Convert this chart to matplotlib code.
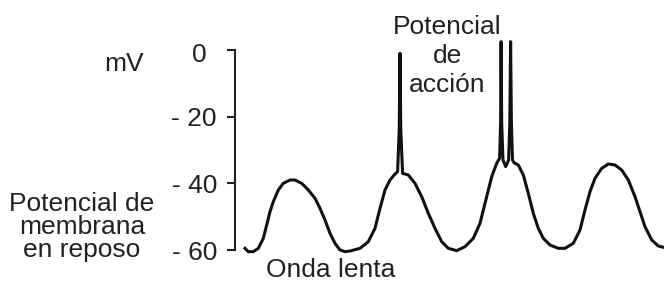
import matplotlib.pyplot as plt
from matplotlib.transforms import ScaledTranslation

# time (arbitrary units) and membrane potential (mV)
t = [10, 13.3, 18.3, 23.3, 28.3, 31.7, 35, 38.3, 43.3, 48.3, 55, 60, 66.7, 73.3,
     80, 85, 90, 95, 100, 105, 110, 115,
     125, 133.3, 140, 145, 150, 155, 160, 162.6, 164.2, 165, 165.8, 167.6,
     173.3, 180, 186.7, 193.3, 200, 206.7, 213.3, 221.7,
     230, 238.3, 245, 251.7, 256.7, 261.7, 264.6, 265.6, 266.1, 266.7, 268,
     270.7, 273.6, 274.8, 275.6, 276.4, 277.5, 279, 283.3, 288.3, 293.3, 298.3,
     303.3, 308.3, 315, 323.3, 330,
     338.3, 345, 350, 355, 360, 366.7, 373.3, 380, 386.7, 393.3, 400, 405, 410,
     416.7, 423.3, 430]
mv = [-59.5, -60.5, -60.5, -59.5, -56.5, -52.5, -48.5, -45.5, -42, -40, -39, -39, -40, -42,
      -44.5, -47.5, -51, -55, -58, -60, -60.5, -60.3,
      -59.5, -57.5, -53.5, -47.5, -42, -39, -37.2, -36.5, -24, -1, -24, -37,
      -37.5, -40, -44, -49, -53.5, -57.5, -59.5, -60.2,
      -59, -56.5, -52, -44, -38, -34, -32.5, -22, 2.5, -22, -33,
      -35, -33, -22, 2.5, -22, -33, -33.8, -34.5, -37.5, -43, -49,
      -53.5, -56.5, -58.5, -59.5, -59.5,
      -58, -54, -48, -42.5, -38.5, -35.5, -34.2, -34.5, -36, -39, -44, -48.5, -53,
      -57, -58.8, -59.3]

yticks = [0, -20, -40, -60]
ytick_labels = ['0', '- 20', '- 40', '- 60']

W, H = 664, 283
plt.rcParams['font.family'] = ['Liberation Sans', 'DejaVu Sans']
fig = plt.figure(figsize=(W / 100, H / 100), dpi=100)

# axes spans full height; spine sits at x=235 px
ax = fig.add_axes([235 / W, 0, (W - 235) / W, 1])
ax.plot(t, mv, color='#111111', lw=2.2, solid_joinstyle='round')
ax.set_xlim(0, W - 235)
ax.set_ylim(-(H - 50) * 0.3, 50 * 0.3)

for s in ['top', 'right', 'bottom']:
    ax.spines[s].set_visible(False)
ax.spines['left'].set_bounds(-60, 0)
ax.spines['left'].set_linewidth(1.5)
ax.spines['left'].set_color('#222222')
ax.set_xticks([])
ax.set_yticks(yticks)
ax.set_yticklabels(ytick_labels, fontsize=19, color='#222222')
ax.tick_params(axis='y', length=6, width=1.5, pad=7, color='#222222')
ax.patch.set_visible(False)
# the "0" sits a bit further left in the original
lab0 = ax.get_yticklabels()[0]
lab0.set_transform(lab0.get_transform() + ScaledTranslation(-0.1, -0.03, fig.dpi_scale_trans))


def ftext(x, y, s, va='center', **kw):
    fig.text(x / W, 1 - y / H, s, ha='center', va=va, fontsize=19,
             color='#222222', **kw)


ftext(124, 64, 'mV')
ftext(447, 56, 'Potencial\nde\nacción', linespacing=1.25)
ftext(331, 277, 'Onda lenta', va='baseline')
ftext(82, 227, 'Potencial de\nmembrana\nen reposo', linespacing=0.97)

fig.savefig('out.png', dpi=100)
